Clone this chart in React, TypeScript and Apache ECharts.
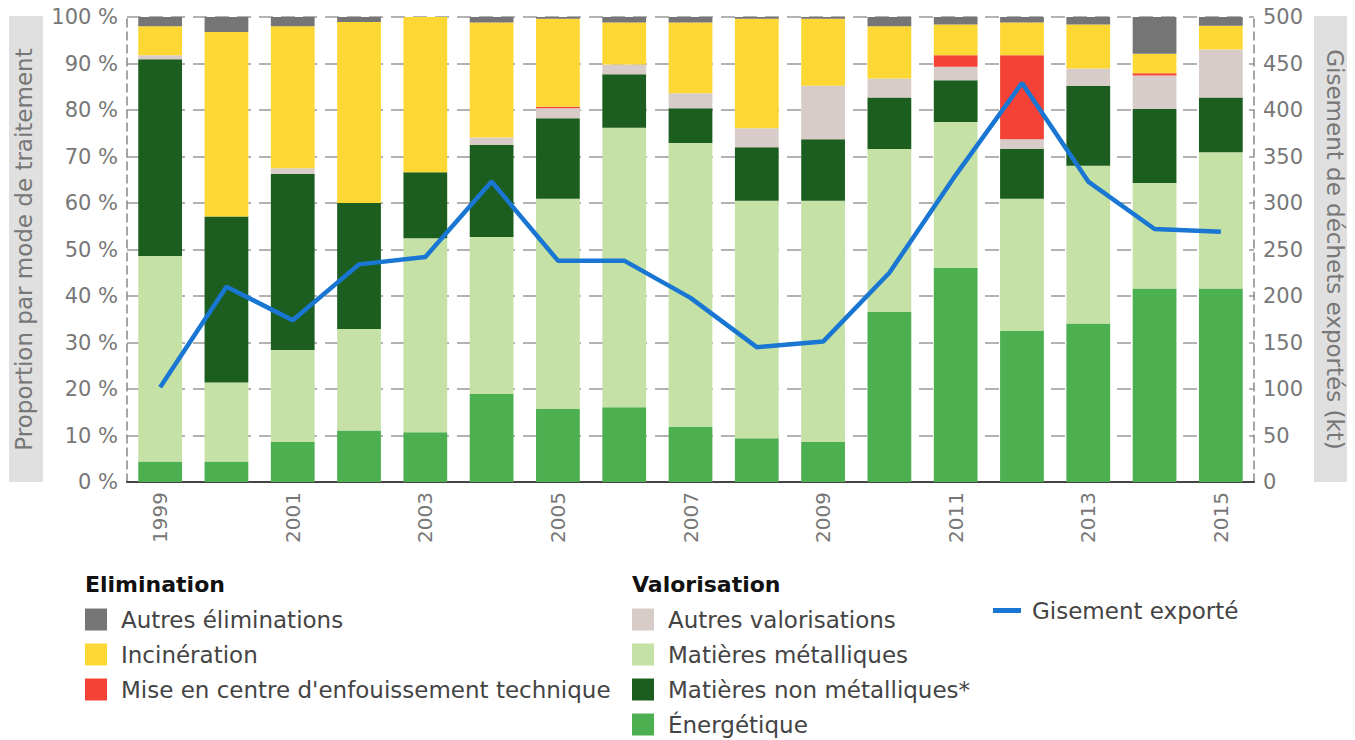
import React, { useEffect, useRef } from "react";
import * as echarts from "echarts";

const years = ["1999","2000","2001","2002","2003","2004","2005","2006","2007","2008","2009","2010","2011","2012","2013","2014","2015"];
const energetique = [4.4, 4.4, 8.6, 11.1, 10.7, 18.9, 15.7, 16.1, 11.9, 9.4, 8.6, 36.6, 46.1, 32.5, 34.1, 41.6, 41.6];
const metalliques = [44.2, 17.0, 19.8, 21.8, 41.7, 33.8, 45.2, 60.1, 61.0, 51.1, 51.9, 35.0, 31.3, 28.4, 33.9, 22.7, 29.3];
const nonMetalliques = [42.3, 35.7, 37.9, 27.1, 14.2, 19.8, 17.3, 11.5, 7.5, 11.5, 13.2, 11.1, 9.0, 10.7, 17.2, 15.9, 11.8];
const autresValorisations = [0.9, 0, 1.2, 0, 0, 1.6, 2.2, 2.1, 3.2, 4.1, 11.5, 4.1, 2.9, 2.1, 3.7, 7.2, 10.3];
const enfouissement = [0, 0, 0, 0, 0, 0, 0.3, 0, 0, 0, 0, 0, 2.5, 18.1, 0, 0.5, 0];
const incineration = [6.2, 39.7, 30.5, 38.9, 33.4, 24.7, 18.9, 9.0, 15.2, 23.5, 14.4, 11.2, 6.6, 7.0, 9.5, 4.2, 5.1];
const autresEliminations = [2.0, 3.2, 2.0, 1.1, 0.2, 1.2, 0.4, 1.2, 1.2, 0.4, 0.4, 2.0, 1.6, 1.2, 1.6, 7.9, 1.9];
const gisement = [102, 210, 174, 234, 242, 323, 238, 238, 198, 145, 151, 225, 330, 429, 323, 272, 269];

const leftTicks = { min: 0, max: 100, interval: 10 };
const rightTicks = { min: 0, max: 500, interval: 50 };

const FONT = "DejaVu Sans";
const GRAY = "#777";

export default function App() {
  const ref = useRef<HTMLDivElement>(null);
  useEffect(() => {
    const chart = echarts.init(ref.current!, undefined, { renderer: "svg" });
    const bar = (name: string, data: number[], color: string) => ({
      name,
      type: "bar",
      stack: "total",
      data,
      barCategoryGap: "34%",
      itemStyle: { color },
      emphasis: { disabled: true },
    });
    const legendText = { fontFamily: FONT, fontSize: 23, lineHeight: 22, color: "#444", padding: [0, 0, 0, 9] };
    chart.setOption({
      animation: false,
      textStyle: { fontFamily: FONT },
      grid: { left: 127, right: 101, top: 17, bottom: 258 },
      graphic: [
        { type: "rect", left: 9, top: 16, shape: { width: 34, height: 466 }, style: { fill: "#e0e0e0" }, z: -10 },
        { type: "rect", left: 1314, top: 16, shape: { width: 33, height: 466 }, style: { fill: "#e0e0e0" }, z: -10 },
        { type: "text", left: 85, top: 573, style: { text: "Elimination", font: `bold 22px ${FONT}`, fill: "#111" } },
        { type: "text", left: 632, top: 573, style: { text: "Valorisation", font: `bold 22px ${FONT}`, fill: "#111" } },
      ],
      legend: [
        {
          left: 85, top: 608, orient: "vertical", itemWidth: 22, itemHeight: 22, itemGap: 12, icon: "rect",
          padding: 0, height: 140, selectedMode: false, textStyle: legendText,
          data: ["Autres éliminations", "Incinération", "Mise en centre d'enfouissement technique"],
        },
        {
          left: 632, top: 608, orient: "vertical", itemWidth: 22, itemHeight: 22, itemGap: 12, icon: "rect",
          padding: 0, height: 140, selectedMode: false, textStyle: legendText,
          data: ["Autres valorisations", "Matières métalliques", "Matières non métalliques*", "Énergétique"],
        },
        {
          left: 993, top: 599, orient: "vertical", itemWidth: 28, itemHeight: 5, icon: "rect",
          padding: 0, selectedMode: false, textStyle: { ...legendText, padding: [0, 0, 0, 6] },
          data: ["Gisement exporté"],
        },
      ],
      xAxis: {
        type: "category",
        data: years,
        axisLine: { lineStyle: { color: "#444", width: 2 } },
        axisTick: { inside: true, length: 8, interval: 0, lineStyle: { color: "#444", width: 2 } },
        axisLabel: { interval: 1, rotate: 90, margin: 10, fontSize: 20, color: GRAY, fontFamily: FONT },
      },
      yAxis: [
        {
          type: "value", ...leftTicks,
          name: "Proportion par mode de traitement", nameLocation: "middle", nameGap: 92, nameRotate: 90,
          nameTextStyle: { fontSize: 23, color: GRAY, fontFamily: FONT },
          axisLine: { show: true, lineStyle: { color: "#888", type: [8, 5], width: 1.5 } },
          axisTick: { show: false },
          axisLabel: { formatter: "{value} %", fontSize: 21, color: GRAY, margin: 9, fontFamily: FONT },
          splitLine: { show: true, lineStyle: { color: "#999", type: [14, 8], width: 1.5 } },
        },
        {
          type: "value", ...rightTicks,
          name: "Gisement de déchets exportés (kt)", nameLocation: "middle", nameGap: 69, nameRotate: -90,
          nameTextStyle: { fontSize: 23, color: GRAY, fontFamily: FONT },
          axisLine: { show: true, lineStyle: { color: "#888", type: [8, 5], width: 1.5 } },
          axisTick: { show: false },
          axisLabel: { fontSize: 21, color: GRAY, margin: 9, fontFamily: FONT },
          splitLine: { show: false },
        },
      ],
      series: [
        bar("Énergétique", energetique, "#4caf50"),
        bar("Matières métalliques", metalliques, "#c5e1a5"),
        bar("Matières non métalliques*", nonMetalliques, "#1b5e20"),
        bar("Autres valorisations", autresValorisations, "#d7ccc8"),
        bar("Mise en centre d'enfouissement technique", enfouissement, "#f44336"),
        bar("Incinération", incineration, "#fdd835"),
        bar("Autres éliminations", autresEliminations, "#757575"),
        {
          name: "Gisement exporté",
          type: "line",
          yAxisIndex: 1,
          data: gisement,
          showSymbol: false,
          symbol: "none",
          lineStyle: { color: "#1976d2", width: 4.5 },
          itemStyle: { color: "#1976d2" },
          z: 10,
        },
      ],
    });
    return () => chart.dispose();
  }, []);
  return <div ref={ref} style={{ width: 1355, height: 740, position: "absolute", left: 0, top: 0 }} />;
}
